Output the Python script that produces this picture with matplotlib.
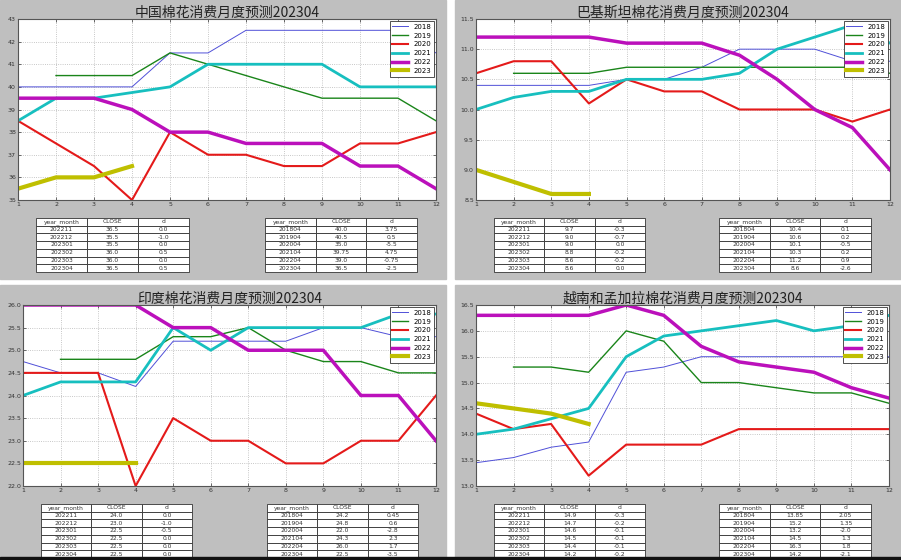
import matplotlib
matplotlib.use('Agg')
import matplotlib.pyplot as plt
from matplotlib.patches import Rectangle
import numpy as np

plt.rcParams['font.family'] = ['DejaVu Sans', 'Noto Sans CJK SC']

nan = np.nan
months = list(range(1, 13))
years = ['2018', '2019', '2020', '2021', '2022', '2023']

# China
cn_2018 = [40, 40, 40, 40, 41.5, 41.5, 42.5, 42.5, 42.5, 42.5, 42.5, 41.5]
cn_2019 = [nan, 40.5, 40.5, 40.5, 41.5, 41, 40.5, 40, 39.5, 39.5, 39.5, 38.5]
cn_2020 = [38.5, 37.5, 36.5, 35, 38, 37, 37, 36.5, 36.5, 37.5, 37.5, 38]
cn_2021 = [38.5, 39.5, 39.5, 39.75, 40, 41, 41, 41, 41, 40, 40, 40]
cn_2022 = [39.5, 39.5, 39.5, 39, 38, 38, 37.5, 37.5, 37.5, 36.5, 36.5, 35.5]
cn_2023 = [35.5, 36, 36, 36.5]

# Pakistan
pk_2018 = [10.4, 10.4, 10.4, 10.4, 10.5, 10.5, 10.7, 11.0, 11.0, 11.0, 10.8, 10.8]
pk_2019 = [nan, 10.6, 10.6, 10.6, 10.7, 10.7, 10.7, 10.7, 10.7, 10.7, 10.7, 10.6]
pk_2020 = [10.6, 10.8, 10.8, 10.1, 10.5, 10.3, 10.3, 10.0, 10.0, 10.0, 9.8, 10.0]
pk_2021 = [10.0, 10.2, 10.3, 10.3, 10.5, 10.5, 10.5, 10.6, 11.0, 11.2, 11.4, 11.1]
pk_2022 = [11.2, 11.2, 11.2, 11.2, 11.1, 11.1, 11.1, 10.9, 10.5, 10.0, 9.7, 9.0]
pk_2023 = [9.0, 8.8, 8.6, 8.6]

# India
in_2018 = [24.75, 24.5, 24.5, 24.2, 25.2, 25.2, 25.2, 25.2, 25.5, 25.5, 25.3, 25.3]
in_2019 = [nan, 24.8, 24.8, 24.8, 25.3, 25.3, 25.5, 25.0, 24.75, 24.75, 24.5, 24.5]
in_2020 = [24.5, 24.5, 24.5, 22.0, 23.5, 23.0, 23.0, 22.5, 22.5, 23.0, 23.0, 24.0]
in_2021 = [24.0, 24.3, 24.3, 24.3, 25.5, 25.0, 25.5, 25.5, 25.5, 25.5, 25.8, 25.8]
in_2022 = [26.0, 26.0, 26.0, 26.0, 25.5, 25.5, 25.0, 25.0, 25.0, 24.0, 24.0, 23.0]
in_2023 = [22.5, 22.5, 22.5, 22.5]

# Vietnam and Bangladesh
vb_2018 = [13.45, 13.55, 13.75, 13.85, 15.2, 15.3, 15.5, 15.5, 15.5, 15.5, 15.5, 15.5]
vb_2019 = [nan, 15.3, 15.3, 15.2, 16.0, 15.8, 15.0, 15.0, 14.9, 14.8, 14.8, 14.6]
vb_2020 = [14.4, 14.1, 14.2, 13.2, 13.8, 13.8, 13.8, 14.1, 14.1, 14.1, 14.1, 14.1]
vb_2021 = [14.0, 14.1, 14.3, 14.5, 15.5, 15.9, 16.0, 16.1, 16.2, 16.0, 16.1, 16.3]
vb_2022 = [16.3, 16.3, 16.3, 16.3, 16.5, 16.3, 15.7, 15.4, 15.3, 15.2, 14.9, 14.7]
vb_2023 = [14.6, 14.5, 14.4, 14.2]

# Tables
recent_months = ['202211', '202212', '202301', '202302', '202303', '202304']
yoy_months = ['201804', '201904', '202004', '202104', '202204', '202304']

cn_recent_close = [36.5, 35.5, 35.5, 36.0, 36.0, 36.5]
cn_recent_d = [0.0, -1.0, 0.0, 0.5, 0.0, 0.5]
cn_yoy_close = [40.0, 40.5, 35.0, 39.75, 39.0, 36.5]
cn_yoy_d = [3.75, 0.5, -5.5, 4.75, -0.75, -2.5]

pk_recent_close = [9.7, 9.0, 9.0, 8.8, 8.6, 8.6]
pk_recent_d = [-0.3, -0.7, 0.0, -0.2, -0.2, 0.0]
pk_yoy_close = [10.4, 10.6, 10.1, 10.3, 11.2, 8.6]
pk_yoy_d = [0.1, 0.2, -0.5, 0.2, 0.9, -2.6]

in_recent_close = [24.0, 23.0, 22.5, 22.5, 22.5, 22.5]
in_recent_d = [0.0, -1.0, -0.5, 0.0, 0.0, 0.0]
in_yoy_close = [24.2, 24.8, 22.0, 24.3, 26.0, 22.5]
in_yoy_d = [0.45, 0.6, -2.8, 2.3, 1.7, -3.5]

vb_recent_close = [14.9, 14.7, 14.6, 14.5, 14.4, 14.2]
vb_recent_d = [-0.3, -0.2, -0.1, -0.1, -0.1, -0.2]
vb_yoy_close = [13.85, 15.2, 13.2, 14.5, 16.3, 14.2]
vb_yoy_d = [2.05, 1.35, -2.0, 1.3, 1.8, -2.1]

W, H = 901, 560
colors = ['#5050d8', '#1a851a', '#e41a1a', '#17bfbf', '#bb10bb', '#bfbf00']
widths = [0.7, 1.0, 1.5, 2.0, 2.5, 3.0]


def box(x0, y0, x1, y1):
    """Pixel box (top-left origin) to figure coords."""
    return [x0 / W, 1 - y1 / H, (x1 - x0) / W, (y1 - y0) / H]


def draw_table(fig, rect, months_col, close, d):
    tax = fig.add_axes(box(*rect))
    tax.axis('off')
    cells = [[m, str(c), str(v)] for m, c, v in zip(months_col, close, d)]
    tb = tax.table(cellText=cells, colLabels=['year_month', 'CLOSE', 'd'],
                   cellLoc='center', bbox=[0, 0, 1, 1])
    tb.auto_set_font_size(False)
    tb.set_fontsize(4.3)
    for cell in tb.get_celld().values():
        cell.set_linewidth(0.6)
        cell.set_edgecolor('#333333')
        cell.set_facecolor('white')
        cell.get_text().set_color('#333333')


def draw_panel(fig, axrect, title, series, ylim, yticks, yfmt, t1, t2, tables):
    ax = fig.add_axes(box(*axrect))
    for i, vals in enumerate(series):
        ax.plot(months[:len(vals)], vals, color=colors[i], lw=widths[i],
                label=years[i])
    ax.set_xlim(1, 12)
    ax.set_ylim(*ylim)
    ax.set_xticks(months)
    ax.set_yticks(yticks)
    ax.set_yticklabels([yfmt.format(v) for v in yticks])
    ax.grid(True, ls=':', color='#b5b5b5', lw=0.6)
    ax.tick_params(labelsize=4.5, direction='in', length=2, width=0.5,
                   colors='#333333', pad=1.5, top=True, right=True)
    for s in ax.spines.values():
        s.set_color('#555555')
        s.set_linewidth(0.8)
    ax.set_title(title, fontsize=10, pad=1.5, color='#222222',
                 family=['Noto Sans CJK SC', 'DejaVu Sans'])
    leg = ax.legend(loc='upper right', fontsize=5, fancybox=False,
                    framealpha=1, edgecolor='#333333', handlelength=2.2,
                    handletextpad=0.8, borderpad=0.4, borderaxespad=0.3,
                    labelspacing=0.4)
    leg.get_frame().set_linewidth(0.6)
    draw_table(fig, t1, *tables[0])
    draw_table(fig, t2, *tables[1])


fig = plt.figure(figsize=(W / 100, H / 100), dpi=100, facecolor='white')
gray = '#bfbfbf'
for r in [(0, 0, 446, 279), (455, 0, 901, 279),
          (0, 285, 446, 557), (455, 285, 901, 557)]:
    fig.patches.append(Rectangle(box(*r)[:2], *box(*r)[2:],
                                 transform=fig.transFigure, color=gray,
                                 zorder=-10))

draw_panel(fig, (18, 19, 436, 200), '中国棉花消费月度预测202304',
           [cn_2018, cn_2019, cn_2020, cn_2021, cn_2022, cn_2023],
           (35, 43), list(range(35, 44)), '{:.0f}',
           (36, 218, 189, 272), (265, 218, 417, 272),
           [(recent_months, cn_recent_close, cn_recent_d),
            (yoy_months, cn_yoy_close, cn_yoy_d)])

draw_panel(fig, (476, 19, 890, 200), '巴基斯坦棉花消费月度预测202304',
           [pk_2018, pk_2019, pk_2020, pk_2021, pk_2022, pk_2023],
           (8.5, 11.5), [8.5, 9.0, 9.5, 10.0, 10.5, 11.0, 11.5], '{:.1f}',
           (494, 218, 645, 272), (719, 218, 871, 272),
           [(recent_months, pk_recent_close, pk_recent_d),
            (yoy_months, pk_yoy_close, pk_yoy_d)])

draw_panel(fig, (23, 305, 436, 486), '印度棉花消费月度预测202304',
           [in_2018, in_2019, in_2020, in_2021, in_2022, in_2023],
           (22, 26), [22.0, 22.5, 23.0, 23.5, 24.0, 24.5, 25.0, 25.5, 26.0],
           '{:.1f}',
           (41, 504, 192, 558), (267, 504, 418, 558),
           [(recent_months, in_recent_close, in_recent_d),
            (yoy_months, in_yoy_close, in_yoy_d)])

draw_panel(fig, (476, 305, 889, 486), '越南和孟加拉棉花消费月度预测202304',
           [vb_2018, vb_2019, vb_2020, vb_2021, vb_2022, vb_2023],
           (13, 16.5), [13.0, 13.5, 14.0, 14.5, 15.0, 15.5, 16.0, 16.5],
           '{:.1f}',
           (494, 504, 645, 558), (719, 504, 871, 558),
           [(recent_months, vb_recent_close, vb_recent_d),
            (yoy_months, vb_yoy_close, vb_yoy_d)])

# dark strip at the very bottom of the screenshot
bar = fig.add_axes(box(0, 557, 901, 560))
bar.axis('off')
bar.add_patch(Rectangle((0, 0), 1, 1, color='#111111',
                        transform=bar.transAxes, clip_on=False))

fig.savefig('out.png', dpi=100, facecolor='white')
